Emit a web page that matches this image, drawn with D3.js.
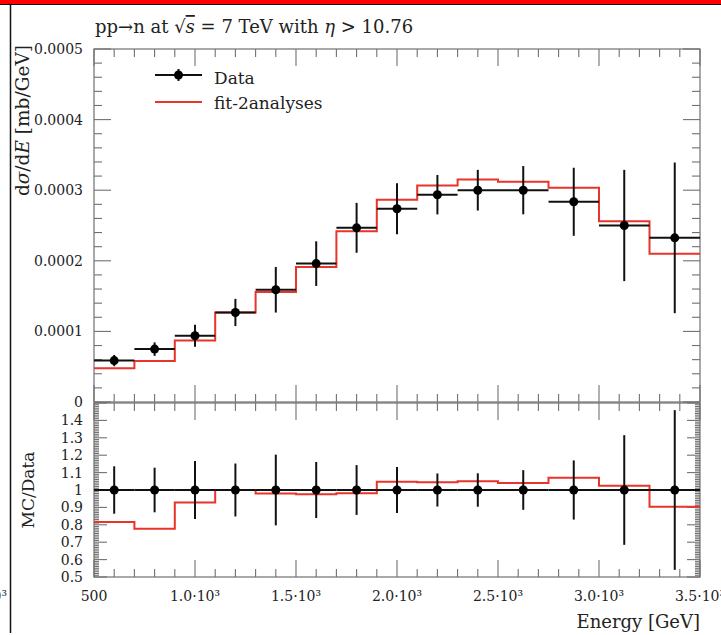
<!DOCTYPE html>
<html>
<head>
<meta charset="utf-8">
<script src="https://cdn.jsdelivr.net/npm/d3@7"></script>
<style>
  body { margin: 0; background: #fff; }
  svg { display: block; font-family: "DejaVu Serif", "Liberation Serif", serif; }
</style>
</head>
<body>
<svg id="chart"></svg>
<script>
// bin edges [GeV]
const edges = [500, 700, 900, 1100, 1300, 1500, 1700, 1900, 2100, 2300, 2500, 2750, 3000, 3250, 3500];
// measured dσ/dE [mb/GeV]
const dataVals = [5.87e-5, 7.49e-5, 9.38e-5, 1.268e-4, 1.59e-4, 1.96e-4, 2.467e-4, 2.737e-4, 2.936e-4, 3.0e-4, 3.0e-4, 2.836e-4, 2.5e-4, 2.325e-4];
const dataErrs = [0.80e-5, 0.96e-5, 1.56e-5, 1.93e-5, 3.23e-5, 3.16e-5, 3.53e-5, 3.61e-5, 2.79e-5, 2.88e-5, 3.42e-5, 4.82e-5, 7.88e-5, 10.67e-5];
// fit-2analyses prediction
const mcVals = [4.79e-5, 5.82e-5, 8.71e-5, 1.268e-4, 1.558e-4, 1.913e-4, 2.42e-4, 2.865e-4, 3.068e-4, 3.153e-4, 3.12e-4, 3.035e-4, 2.56e-4, 2.10e-4];

const yTicks = [0, 0.0001, 0.0002, 0.0003, 0.0004, 0.0005];
const yTickLabels = ["0", "0.0001", "0.0002", "0.0003", "0.0004", "0.0005"];
const rTicks = [0.5, 0.6, 0.7, 0.8, 0.9, 1.0, 1.1, 1.2, 1.3, 1.4];
const rTickLabels = ["0.5", "0.6", "0.7", "0.8", "0.9", "1", "1.1", "1.2", "1.3", "1.4"];
const xTicks = [500, 1000, 1500, 2000, 2500, 3000, 3500];
const xTickLabels = ["500", "1.0·10³", "1.5·10³", "2.0·10³", "2.5·10³", "3.0·10³", "3.5·10³"];

const W = 721, H = 635;
const left = 94, right = 700;
const mainTop = 49, mainBot = 402, ratTop = 403, ratBot = 577;
const red = "#e8342a", frame = "#707070", ink = "#222";

const svg = d3.select("#chart").attr("width", W).attr("height", H);
svg.append("rect").attr("width", W).attr("height", H).attr("fill", "#fff");

// screenshot border bits
svg.append("rect").attr("x", 0).attr("y", 0).attr("width", W).attr("height", 4).attr("fill", "#f00");
svg.append("line").attr("x1", 0).attr("x2", W).attr("y1", 4.5).attr("y2", 4.5).attr("stroke", "#111").attr("stroke-width", 1.2);
svg.append("line").attr("x1", 10.5).attr("x2", 10.5).attr("y1", 4).attr("y2", 633).attr("stroke", "#111").attr("stroke-width", 1.5);
svg.append("text").attr("x", 7).attr("y", 601).attr("text-anchor", "end").attr("font-size", 14).attr("fill", "#333").text("10³");

const x = d3.scaleLinear().domain([500, 3500]).range([left, right]);
const y = d3.scaleLinear().domain([0, 0.0005]).range([mainBot, mainTop]);
const yr = d3.scaleLinear().domain([0.5, 1.5]).range([ratBot, ratTop]);

// ---- ticks (inward, mirrored) ----
function xTickMarks(yBase, dir) {
  const g = svg.append("g").attr("stroke", frame).attr("stroke-width", 1.1);
  d3.range(500, 3501, 100).forEach(v => {
    const len = v % 500 === 0 ? 17 : 8;
    g.append("line").attr("x1", x(v)).attr("x2", x(v))
      .attr("y1", yBase).attr("y2", yBase + dir * len);
  });
}
xTickMarks(mainTop, 1);
xTickMarks(mainBot, -1);
xTickMarks(ratTop, 1);
xTickMarks(ratBot, -1);

const gy = svg.append("g").attr("stroke", frame).attr("stroke-width", 1.1);
d3.range(0, 26).forEach(i => {
  const v = i * 0.00002;
  const len = i % 5 === 0 ? 17 : 8;
  gy.append("line").attr("x1", left).attr("x2", left + len).attr("y1", y(v)).attr("y2", y(v));
  gy.append("line").attr("x1", right).attr("x2", right - len).attr("y1", y(v)).attr("y2", y(v));
});
d3.range(0, 101).forEach(i => {
  const v = 0.5 + i * 0.01;
  const len = i % 10 === 0 ? 13 : 5;
  gy.append("line").attr("x1", left).attr("x2", left + len).attr("y1", yr(v)).attr("y2", yr(v));
  gy.append("line").attr("x1", right).attr("x2", right - len).attr("y1", yr(v)).attr("y2", yr(v));
});

// frames
svg.append("rect").attr("x", left).attr("y", mainTop).attr("width", right - left).attr("height", mainBot - mainTop)
  .attr("fill", "none").attr("stroke", frame).attr("stroke-width", 1.2);
svg.append("rect").attr("x", left).attr("y", ratTop).attr("width", right - left).attr("height", ratBot - ratTop)
  .attr("fill", "none").attr("stroke", frame).attr("stroke-width", 1.2);

// ---- tick labels ----
svg.append("g").selectAll("text").data(yTicks).join("text")
  .attr("x", 83).attr("y", d => y(d) + 5).attr("text-anchor", "end").attr("font-size", 14).attr("fill", ink)
  .text((d, i) => yTickLabels[i]);
svg.append("g").selectAll("text").data(rTicks).join("text")
  .attr("x", 83).attr("y", d => yr(d) + 5).attr("text-anchor", "end").attr("font-size", 14).attr("fill", ink)
  .text((d, i) => rTickLabels[i]);
svg.append("g").selectAll("text").data(xTicks).join("text")
  .attr("x", d => x(d)).attr("y", 601).attr("text-anchor", "middle").attr("font-size", 14).attr("fill", ink)
  .text((d, i) => xTickLabels[i]);

// ---- main panel ----
const bins = dataVals.map((v, i) => ({lo: edges[i], hi: edges[i + 1], v, e: dataErrs[i], mc: mcVals[i]}));
const last = bins[bins.length - 1];
const stepPts = bins.map(b => [b.lo, b.mc]).concat([[last.hi, last.mc]]);
const ratioPts = bins.map(b => [b.lo, b.mc / b.v]).concat([[last.hi, last.mc / last.v]]);

svg.append("path").datum(stepPts)
  .attr("d", d3.line().x(d => x(d[0])).y(d => y(d[1])).curve(d3.curveStepAfter))
  .attr("fill", "none").attr("stroke", red).attr("stroke-width", 2);

const gd = svg.append("g");
bins.forEach(b => {
  const cx = x((b.lo + b.hi) / 2);
  gd.append("line").attr("x1", x(b.lo)).attr("x2", x(b.hi)).attr("y1", y(b.v)).attr("y2", y(b.v))
    .attr("stroke", "#111").attr("stroke-width", 2);
  gd.append("line").attr("x1", cx).attr("x2", cx).attr("y1", y(b.v - b.e)).attr("y2", y(b.v + b.e))
    .attr("stroke", "#111").attr("stroke-width", 2);
  gd.append("circle").attr("cx", cx).attr("cy", y(b.v)).attr("r", 4.5).attr("fill", "#000");
});

// ---- ratio panel ----
svg.append("path").datum(ratioPts)
  .attr("d", d3.line().x(d => x(d[0])).y(d => yr(d[1])).curve(d3.curveStepAfter))
  .attr("fill", "none").attr("stroke", red).attr("stroke-width", 2);

const gr = svg.append("g");
bins.forEach(b => {
  const cx = x((b.lo + b.hi) / 2);
  const re = b.e / b.v;
  gr.append("line").attr("x1", x(b.lo)).attr("x2", x(b.hi)).attr("y1", yr(1)).attr("y2", yr(1))
    .attr("stroke", "#111").attr("stroke-width", 2);
  gr.append("line").attr("x1", cx).attr("x2", cx).attr("y1", yr(1 - re)).attr("y2", yr(1 + re))
    .attr("stroke", "#111").attr("stroke-width", 2);
  gr.append("circle").attr("cx", cx).attr("cy", yr(1)).attr("r", 4.5).attr("fill", "#000");
});

// ---- legend ----
const lg = svg.append("g");
lg.append("line").attr("x1", 155).attr("x2", 202).attr("y1", 75).attr("y2", 75).attr("stroke", "#111").attr("stroke-width", 2);
lg.append("line").attr("x1", 178.5).attr("x2", 178.5).attr("y1", 69).attr("y2", 81).attr("stroke", "#111").attr("stroke-width", 2);
lg.append("circle").attr("cx", 178.5).attr("cy", 75).attr("r", 4.5).attr("fill", "#000");
lg.append("text").attr("x", 214).attr("y", 84).attr("font-size", 17).attr("fill", ink).text("Data");
lg.append("line").attr("x1", 155).attr("x2", 202).attr("y1", 102).attr("y2", 102).attr("stroke", red).attr("stroke-width", 2);
lg.append("text").attr("x", 214).attr("y", 109).attr("font-size", 17).attr("fill", ink).text("fit-2analyses");

// ---- titles ----
const t = svg.append("text").attr("x", 95).attr("y", 33).attr("font-size", 18).attr("fill", ink);
t.append("tspan").text("pp→n at √");
t.append("tspan").attr("font-style", "italic").style("text-decoration", "overline").text("s");
t.append("tspan").text(" = 7 TeV with ");
t.append("tspan").attr("font-style", "italic").text("η");
t.append("tspan").text(" > 10.76");

const yl = svg.append("text").attr("transform", "translate(29,45) rotate(-90)")
  .attr("text-anchor", "end").attr("font-size", 18.5).attr("fill", ink);
yl.append("tspan").text("d");
yl.append("tspan").attr("font-style", "italic").text("σ");
yl.append("tspan").text("/d");
yl.append("tspan").attr("font-style", "italic").text("E");
yl.append("tspan").text(" [mb/GeV]");

svg.append("text").attr("transform", "translate(34,490) rotate(-90)")
  .attr("text-anchor", "middle").attr("font-size", 17).attr("fill", ink).text("MC/Data");

svg.append("text").attr("x", 700).attr("y", 628).attr("text-anchor", "end")
  .attr("font-size", 18).attr("fill", ink).text("Energy [GeV]");
</script>
</body>
</html>
